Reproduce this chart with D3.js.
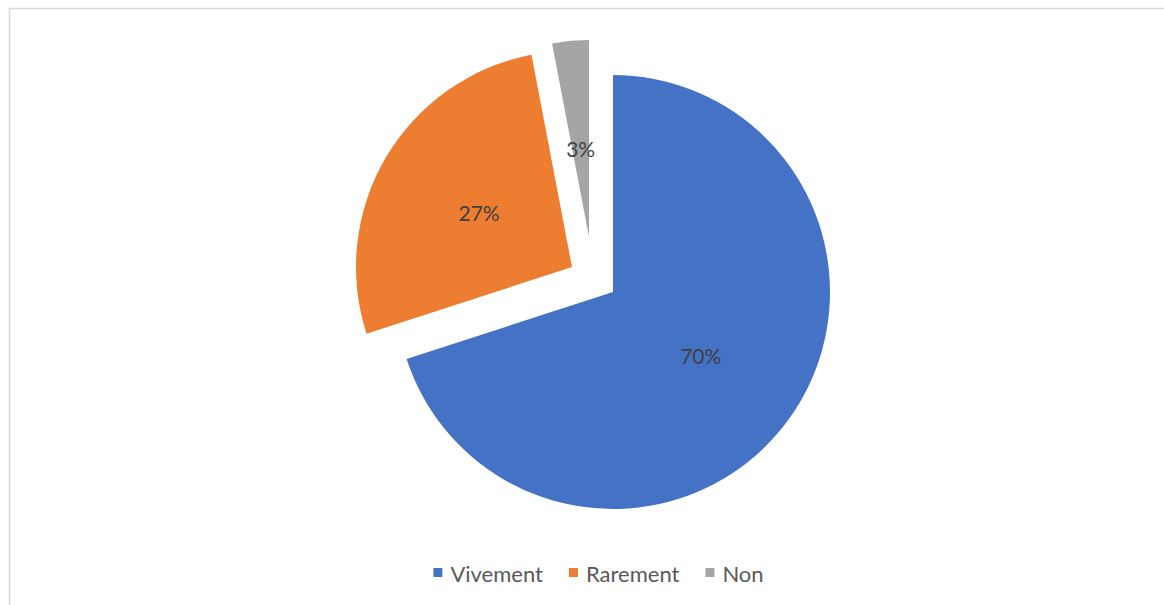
<!DOCTYPE html>
<html>
<head>
<meta charset="utf-8">
<script src="https://cdn.jsdelivr.net/npm/d3@7"></script>
<style>
  body { margin: 0; background: #fff; }
  svg { display: block; }
  text { font-family: Lato, "Open Sans", sans-serif; }
</style>
</head>
<body>
<svg id="chart"></svg>
<script>
// données
const categories = ["Vivement", "Rarement", "Non"];
const values = [70, 27, 3];
const colors = ["#4472C4", "#ED7D31", "#A5A5A5"];

const width = 1164, height = 605;

// centre de la tarte et décalage des parts éclatées
const center = {x: 613, y: 292};
const explode = [[0, 0], [-41, -25], [-24, -55]];
const radii = [217, 216, 197];

const svg = d3.select("#chart")
    .attr("width", width)
    .attr("height", height);

// cadre
svg.append("rect")
    .attr("x", 9.5).attr("y", 8.5)
    .attr("width", width + 10).attr("height", height + 10)
    .attr("fill", "none")
    .attr("stroke", "#d9d9d9")
    .attr("stroke-width", 1.5);

const pie = d3.pie().sort(null).value(d => d)(values);
const total = d3.sum(values);

const g = svg.append("g")
    .attr("transform", "translate(" + center.x + "," + center.y + ")");

const slices = g.selectAll(".slice")
    .data(pie)
  .enter().append("g")
    .attr("class", "slice")
    .attr("transform", (d, i) => "translate(" + explode[i][0] + "," + explode[i][1] + ")");

slices.append("path")
    .attr("d", (d, i) => d3.arc().innerRadius(0).outerRadius(radii[i])(d))
    .attr("fill", (d, i) => colors[i]);

slices.append("text")
    .attr("transform", (d, i) => {
      const c = d3.arc().innerRadius(0).outerRadius(radii[i] * (i === 2 ? 0.9 : 1)).centroid(d);
      return "translate(" + c[0] + "," + c[1] + ")";
    })
    .attr("text-anchor", "middle")
    .attr("dominant-baseline", "central")
    .attr("font-size", 21)
    .attr("fill", "#404040")
    .text(d => Math.round(d.data / total * 100) + "%");

// légende
const legend = svg.append("g");
let lx = 0;
const items = legend.selectAll(".item")
    .data(categories)
  .enter().append("g")
    .attr("class", "item");

items.append("rect")
    .attr("width", 9).attr("height", 9)
    .attr("y", -5)
    .attr("fill", (d, i) => colors[i]);

items.append("text")
    .attr("x", 17)
    .attr("dominant-baseline", "central")
    .attr("font-size", 22)
    .attr("fill", "#595959")
    .text(d => d);

items.each(function () {
  const w = d3.select(this).select("text").node().getComputedTextLength();
  d3.select(this).attr("transform", "translate(" + lx + ",0)");
  lx += 17 + w + 26;
});
const legendW = lx - 26;
legend.attr("transform", "translate(" + (598.5 - legendW / 2) + ",573)");
</script>
</body>
</html>
